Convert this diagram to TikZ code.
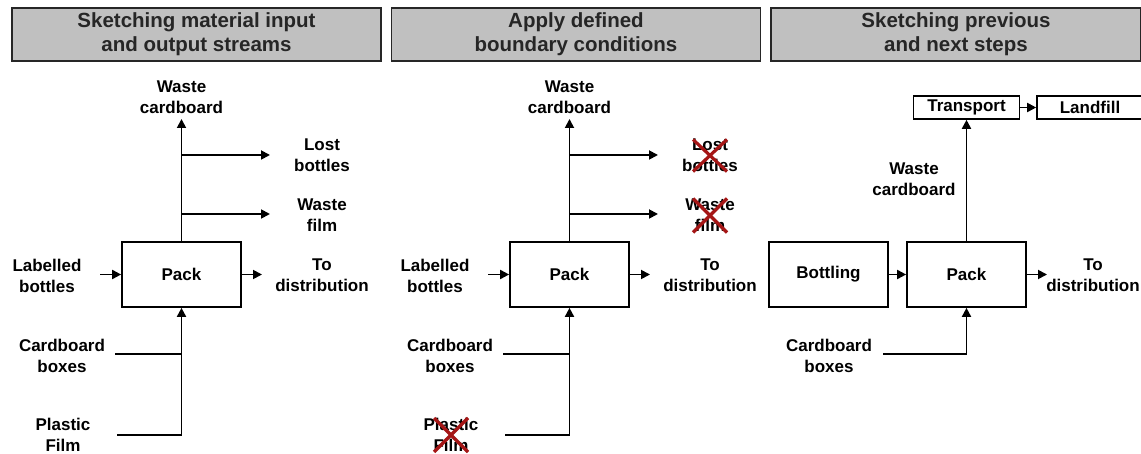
\documentclass[tikz,border=0pt]{standalone}
\usepackage{fontspec}
\setmainfont{Liberation Sans}
\usetikzlibrary{arrows.meta}
\definecolor{hdrgray}{RGB}{192,192,192}
\definecolor{xred}{RGB}{165,22,22}
\begin{document}
\begin{tikzpicture}[x=1pt,y=-1pt,
  hdr/.style={draw=black!85, line width=1.8pt, fill=hdrgray, minimum width=369pt, minimum height=53pt, align=center, font=\bfseries\fontsize{20.5}{24}\selectfont, text=black!85, inner sep=0pt},
  proc/.style={draw, line width=1.7pt, minimum width=119pt, minimum height=65pt, inner sep=0pt, font=\bfseries\fontsize{17}{21}\selectfont},
  smallproc/.style={draw, line width=1.6pt, minimum height=23pt, inner sep=0pt, font=\bfseries\fontsize{17}{21}\selectfont},
  lab/.style={align=center, font=\bfseries\fontsize{17}{21}\selectfont, inner sep=0pt},
  flow/.style={line width=1.8pt, -{Triangle[length=9pt,width=9pt]}},
  plain/.style={line width=1.4pt},
  xmark/.style={draw=xred, line width=3.2pt}]
\useasboundingbox (0,0) rectangle (1141,454);
\clip (0,0) rectangle (1141,454);

% headers
\node[hdr] (h1) at (196.5,34.5) {Sketching material input\\and output streams};
\node[hdr] (h2) at (576,34.5) {Apply defined\\boundary conditions};
\node[hdr, minimum width=370pt] (h3) at (956,34.5) {Sketching previous\\and next steps};

% panels 1 and 2
\foreach \dx/\p in {0/1,388/2}{
  \begin{scope}[xshift=\dx pt]
    \node[proc] (pack\p) at (181.5,274.5) {Pack};
    \node[lab] (wc\p) at (181.5,97) {Waste\\cardboard};
    \node[lab] (lb\p) at (322,155.5) {Lost\\bottles};
    \node[lab] (wf\p) at (322,215.5) {Waste\\film};
    \node[lab] (td\p) at (322,275.5) {To\\distribution};
    \node[lab] (lbl\p) at (47,275.5) {Labelled\\bottles};
    \node[lab] (cb\p) at (62,355.5) {Cardboard\\boxes};
    \node[lab] (pf\p) at (63,435) {Plastic\\Film};
    \coordinate (wct\p) at (181.5,119);
    \coordinate (lbs\p) at (181.5,155);
    \coordinate (lbt\p) at (270,155);
    \coordinate (wfs\p) at (181.5,214);
    \coordinate (wft\p) at (270,214);
    \coordinate (tdt\p) at (262,274.5);
    \coordinate (lbls\p) at (100,274.5);
    \coordinate (cbs\p) at (115,354);
    \coordinate (cbj\p) at (181.5,354);
    \coordinate (pfs\p) at (117,435);
    \coordinate (pfc\p) at (181.5,435);
    \draw[flow] (pack\p.north) -- (wct\p);
    \draw[flow] (lbs\p) -- (lbt\p);
    \draw[flow] (wfs\p) -- (wft\p);
    \draw[flow] (pack\p.east) -- (tdt\p);
    \draw[flow] (lbls\p) -- (pack\p.west);
    \draw[plain] (cbs\p) -- (cbj\p);
    \draw[flow] (pfs\p) -- (pfc\p) -- (pack\p.south);
  \end{scope}
}

% red crosses in panel 2
\draw[xmark] ([shift={(-17,-16)}]lb2.center) -- ([shift={(17,16)}]lb2.center);
\draw[xmark] ([shift={(17,-16)}]lb2.center) -- ([shift={(-17,16)}]lb2.center);
\draw[xmark] ([shift={(-17,-17)}]wf2.center) -- ([shift={(17,17)}]wf2.center);
\draw[xmark] ([shift={(17,-17)}]wf2.center) -- ([shift={(-17,17)}]wf2.center);
\draw[xmark] ([shift={(-17,-17)}]pf2.center) -- ([shift={(17,17)}]pf2.center);
\draw[xmark] ([shift={(17,-17)}]pf2.center) -- ([shift={(-17,17)}]pf2.center);

% panel 3
\node[proc] (bott) at (828.5,274.5) {Bottling};
\node[proc] (pack3) at (966.5,274.5) {Pack};
\node[smallproc, minimum width=106pt] (trans) at (966.5,107.5) {Transport};
\node[smallproc, minimum width=106pt] (land) at (1090,107.5) {Landfill};
\node[lab] (wc3) at (914,179.5) {Waste\\cardboard};
\node[lab] (td3) at (1093,275.5) {To\\distribution};
\node[lab] (cb3) at (829,355.5) {Cardboard\\boxes};
\coordinate (tdt3) at (1047,274.5);
\coordinate (cbs3) at (883,354);
\coordinate (cbj3) at (966.5,354);
\draw[flow] (pack3.north) -- (trans.south);
\draw[flow] (trans.east) -- (land.west);
\draw[flow] (bott.east) -- (pack3.west);
\draw[flow] (pack3.east) -- (tdt3);
\draw[flow] (cbs3) -- (cbj3) -- (pack3.south);
\end{tikzpicture}
\end{document}
